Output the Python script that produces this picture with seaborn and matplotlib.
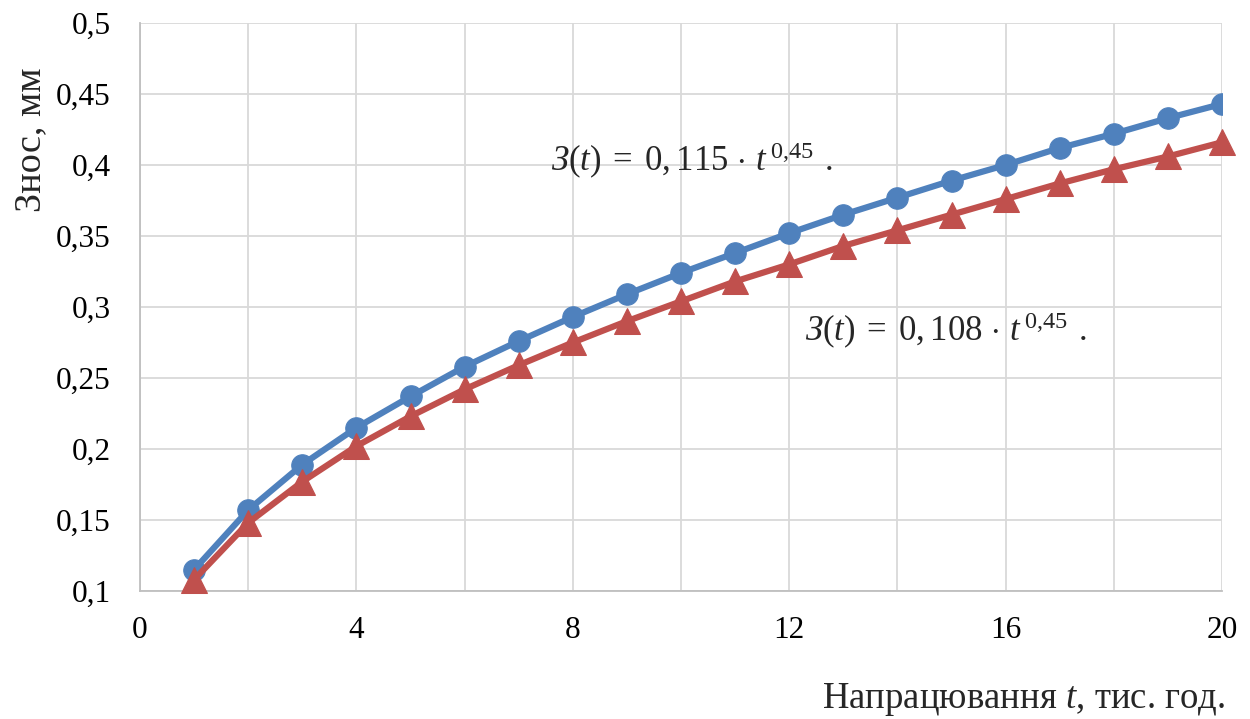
import numpy as np
import pandas as pd
import matplotlib
matplotlib.use("Agg")
import matplotlib.pyplot as plt
import seaborn as sns

t = list(range(1, 21))
wear_a = [0.115, 0.157, 0.189, 0.215, 0.237, 0.258, 0.276, 0.293, 0.309, 0.324,
          0.338, 0.352, 0.365, 0.377, 0.389, 0.400, 0.412, 0.422, 0.433, 0.443]
wear_b = [0.108, 0.148, 0.177, 0.202, 0.223, 0.242, 0.259, 0.275, 0.290, 0.304,
          0.318, 0.330, 0.343, 0.354, 0.365, 0.376, 0.387, 0.397, 0.406, 0.416]
x_ticks = [0, 4, 8, 12, 16, 20]
y_ticks = [0.1, 0.15, 0.2, 0.25, 0.3, 0.35, 0.4, 0.45, 0.5]
y_labels = ["0,1", "0,15", "0,2", "0,25", "0,3", "0,35", "0,4", "0,45", "0,5"]
eq_a = r"$\mathit{З}(t)\;=\;0,115\,\cdot\,t^{\,0{,}45}\;\,.$"
eq_b = r"$\mathit{З}(t)\;=\;0,108\,\cdot\,t^{\,0{,}45}\;\,.$"

sns.set_style("white")
plt.rcParams["font.family"] = ["Liberation Serif", "DejaVu Serif"]
plt.rcParams["mathtext.fontset"] = "custom"
plt.rcParams["mathtext.rm"] = "Liberation Serif"
plt.rcParams["mathtext.it"] = "Liberation Serif:italic"
plt.rcParams["mathtext.bf"] = "Liberation Serif:bold"

fig = plt.figure(figsize=(12.5, 7.19), dpi=100)
ax = fig.add_axes([140/1250, 1-591/719, (1222-140)/1250, (591-23)/719])

blue = "#4F81BD"
red = "#C0504D"
sns.lineplot(x=t, y=wear_a, ax=ax, color=blue, lw=4.5, marker="o", markersize=15.5,
             markeredgecolor=blue, zorder=3)
sns.lineplot(x=t, y=wear_b, ax=ax, color=red, lw=4.5, marker="^", markersize=18.5,
             markeredgecolor=red, zorder=4, clip_on=False)

ax.set_xlim(0, 20)
ax.set_ylim(0.1, 0.5)
ax.set_xticks(x_ticks)
ax.set_xticks(list(range(0, 21, 2)), minor=True)
ax.set_yticks(y_ticks)
ax.set_yticklabels(y_labels)
ax.grid(True, which="both", color="#d9d9d9", lw=1.3)
ax.set_axisbelow(True)
ax.tick_params(axis="both", which="both", length=0, labelsize=22.5, colors="black")
ax.tick_params(axis="x", pad=18)
ax.tick_params(axis="y", pad=21)
for s in ["top", "right"]:
    ax.spines[s].set_visible(False)
for s in ["left", "bottom"]:
    ax.spines[s].set_color("#bfbfbf")
    ax.spines[s].set_linewidth(1.3)

ax.text(7.6, 0.403, eq_a, fontsize=25, va="center", ha="left")
ax.text(12.3, 0.283, eq_b, fontsize=25, va="center", ha="left")

fig.text(31/1250, 1-140/719, "Знос, мм", rotation=90, fontsize=27.5,
         ha="center", va="center")
fig.text(1225/1250, 1-700/719, "Напрацювання $\\mathit{t}$, тис. год.", fontsize=26.5,
         ha="right", va="center")

fig.savefig("out.png", dpi=100)
